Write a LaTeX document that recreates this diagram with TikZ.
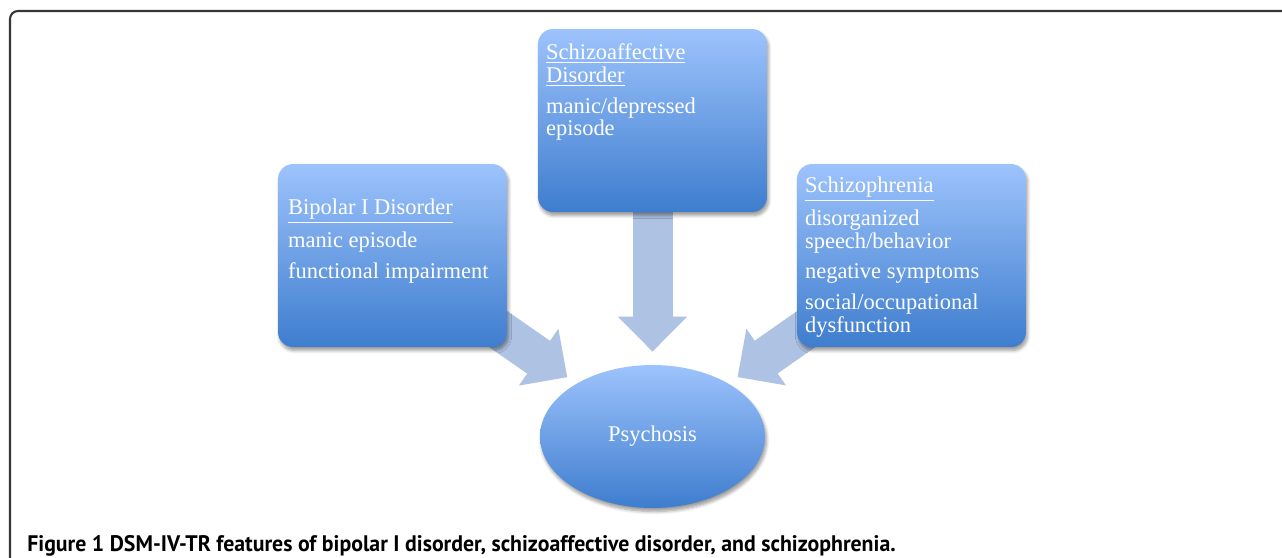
\documentclass[tikz,border=0pt]{standalone}
\usepackage{fontspec}
\setmainfont{Liberation Serif}
\newfontfamily\capfont{PT Sans}[FakeStretch=0.97]
\usetikzlibrary{arrows.meta,positioning,shapes.geometric,shadows.blur,backgrounds}

\definecolor{boxtop}{RGB}{157,195,252}
\definecolor{boxbot}{RGB}{62,125,206}
\definecolor{arrowcol}{RGB}{174,194,227}
\definecolor{framecol}{RGB}{55,55,55}

\tikzset{
  diag/.style={rounded corners=0.3cm, top color=boxtop, bottom color=boxbot,
    minimum width=4.58cm, minimum height=3.66cm,
    blur shadow={shadow xshift=0.03cm, shadow yshift=-0.07cm, shadow blur steps=6}},
  oval/.style={ellipse, top color=boxtop, bottom color=boxbot, text=white,
    minimum width=4.5cm, minimum height=2.86cm, inner sep=0pt,
    font=\fontsize{12.8}{13}\selectfont,
    blur shadow={shadow xshift=0.03cm, shadow yshift=-0.07cm, shadow blur steps=6}},
  txt/.style={text=white, align=left, inner sep=0pt, anchor=north west,
    font=\fontsize{12.8}{13}\selectfont},
  bigarrow/.style={arrowcol, line width=0.8cm, -{Triangle[length=0.7cm, width=1.34cm]}},
  frame/.style={framecol, line width=1.2pt, rounded corners=0.16cm}
}

\begin{document}
\begin{tikzpicture}[x=0.02cm, y=-0.02cm]
  \useasboundingbox (0,0) rectangle (1282,558);
  \draw[frame] (10,558) -- (10,11) -- (1282,11);

  % the three disorders and the common outcome
  \node[diag] (sza) at (652.5,120.5) {};
  \node[diag] (bip) at (392.5,255.5) {};
  \node[diag] (sch) at (911.5,255.5) {};
  \node[oval] (psy) at (652.5,436.5) {Psychosis};

  \node[txt] (bipt) at ([xshift=0.2cm, yshift=-0.7cm]bip.north west)
    {\underline{Bipolar I Disorder}\\[0.15cm] manic episode\\[0.15cm] functional impairment};
  \node[txt] (szat) at ([xshift=0.16cm, yshift=-0.3cm]sza.north west)
    {\underline{Schizoaffective}\\ \underline{Disorder}\\[0.15cm] manic/depressed\\ episode};
  \node[txt] (scht) at ([xshift=0.16cm, yshift=-0.26cm]sch.north west)
    {\underline{Schizophrenia}\\[0.15cm] disorganized\\ speech/behavior\\[0.15cm]
     negative symptoms\\[0.15cm] social/occupational\\ dysfunction};

  \begin{pgfonlayer}{background}
    \draw[bigarrow, shorten >=0.22cm] (bip.center) -- (psy);
    \draw[bigarrow, shorten >=0.26cm] (sza.center) -- (psy);
    \draw[bigarrow, shorten >=0.22cm] (sch.center) -- (psy);
  \end{pgfonlayer}

  \node[anchor=base west, inner sep=0pt, font=\capfont\bfseries\fontsize{12.8}{14}\selectfont] (cap) at (27,551)
    {Figure 1 DSM-IV-TR features of bipolar I disorder, schizoaffective disorder, and schizophrenia.};
\end{tikzpicture}
\end{document}
